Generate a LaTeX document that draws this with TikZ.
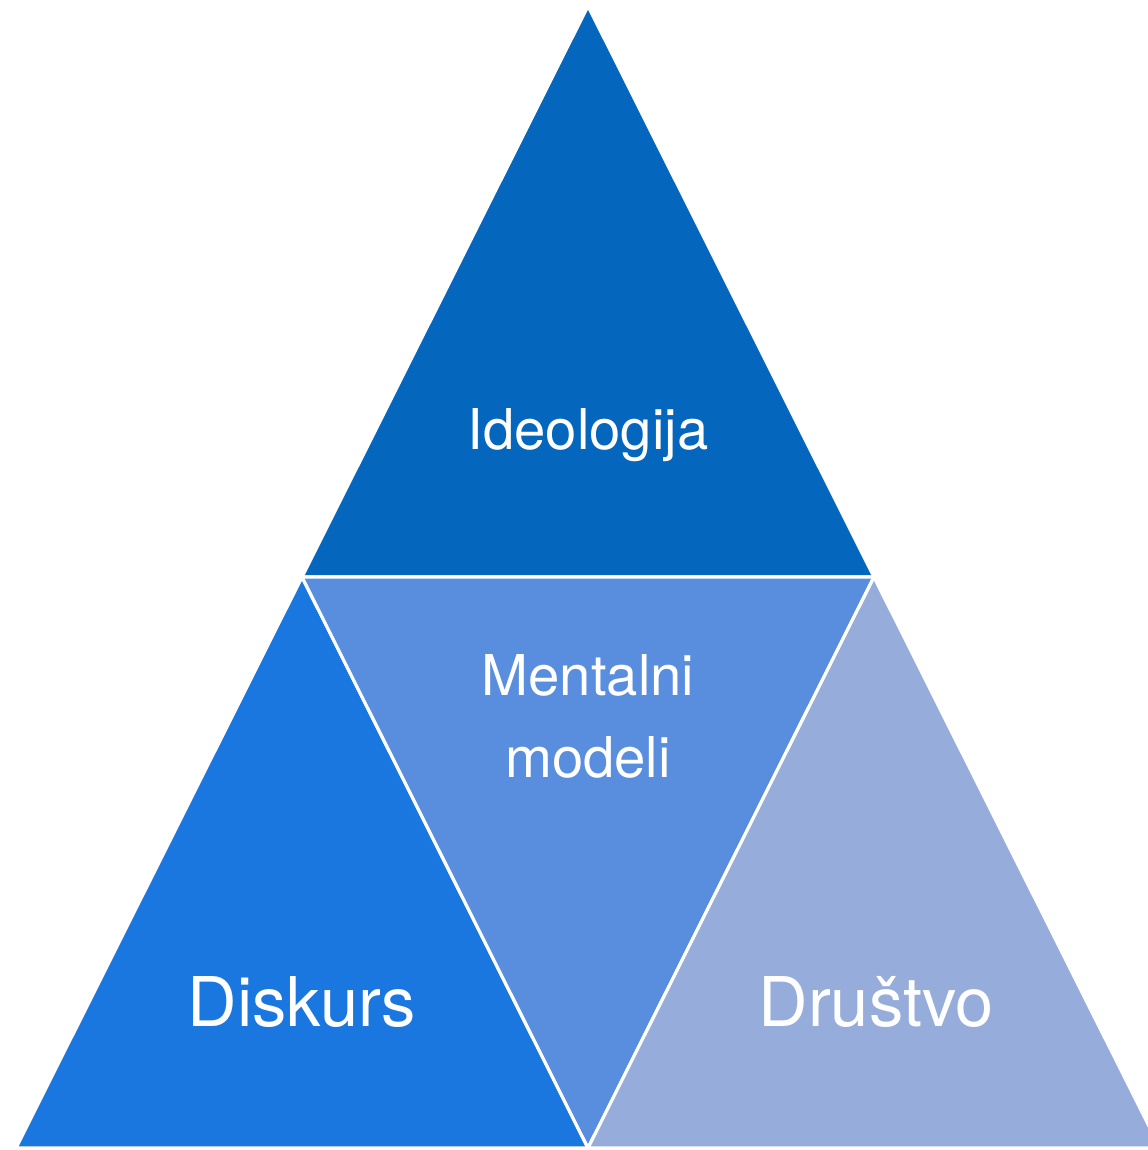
\documentclass[tikz,border=0pt]{standalone}
\usepackage{fontspec}
\setmainfont{TeX Gyre Heros}
\usepackage{tikz}
\usetikzlibrary{positioning}
\tikzset{piece/.style = {draw=white, line width=0.9pt, line join=round}}
\tikzset{lbl/.style = {white, inner sep=0, anchor=base, align=center}}
\definecolor{ctop}{RGB}{5, 102, 189}
\definecolor{cleft}{RGB}{26, 119, 224}
\definecolor{cmid}{RGB}{89, 141, 221}
\definecolor{cright}{RGB}{150, 173, 219}

\begin{document}
\begin{tikzpicture}[x=0.01cm, y=-0.01cm]
      \useasboundingbox (0, 0) rectangle (1148, 1150);
      \clip (0, 0) rectangle (1148, 1150);

      \coordinate (apex) at (588, 6);
      \coordinate (ml) at (302, 577);
      \coordinate (mr) at (874, 577);
      \coordinate (bl) at (16, 1148);
      \coordinate (bm) at (588, 1148);
      \coordinate (br) at (1160, 1148);

      \draw [piece, fill=ctop] (apex) -- (ml) -- (mr) -- cycle;
      \draw [piece, fill=cleft] (ml) -- (bl) -- (bm) -- cycle;
      \draw [piece, fill=cmid] (ml) -- (mr) -- (bm) -- cycle;
      \draw [piece, fill=cright] (mr) -- (bm) -- (br) -- cycle;

      \node (ideo) [lbl, font=\fontsize{16}{19}\selectfont] at (588, 449) {Ideologija};
      \node (ment) [lbl, font=\fontsize{16}{23}\selectfont] at (588, 695) {Mentalni};
      \node (mode) [lbl, font=\fontsize{16}{23}\selectfont] at (588, 777) {modeli};
      \node (disk) [lbl, font=\fontsize{19.5}{23}\selectfont] at (302, 1026) {Diskurs};
      \node (drus) [lbl, font=\fontsize{19.5}{23}\selectfont] at (876, 1026) {Društvo};
\end{tikzpicture}
\end{document}
